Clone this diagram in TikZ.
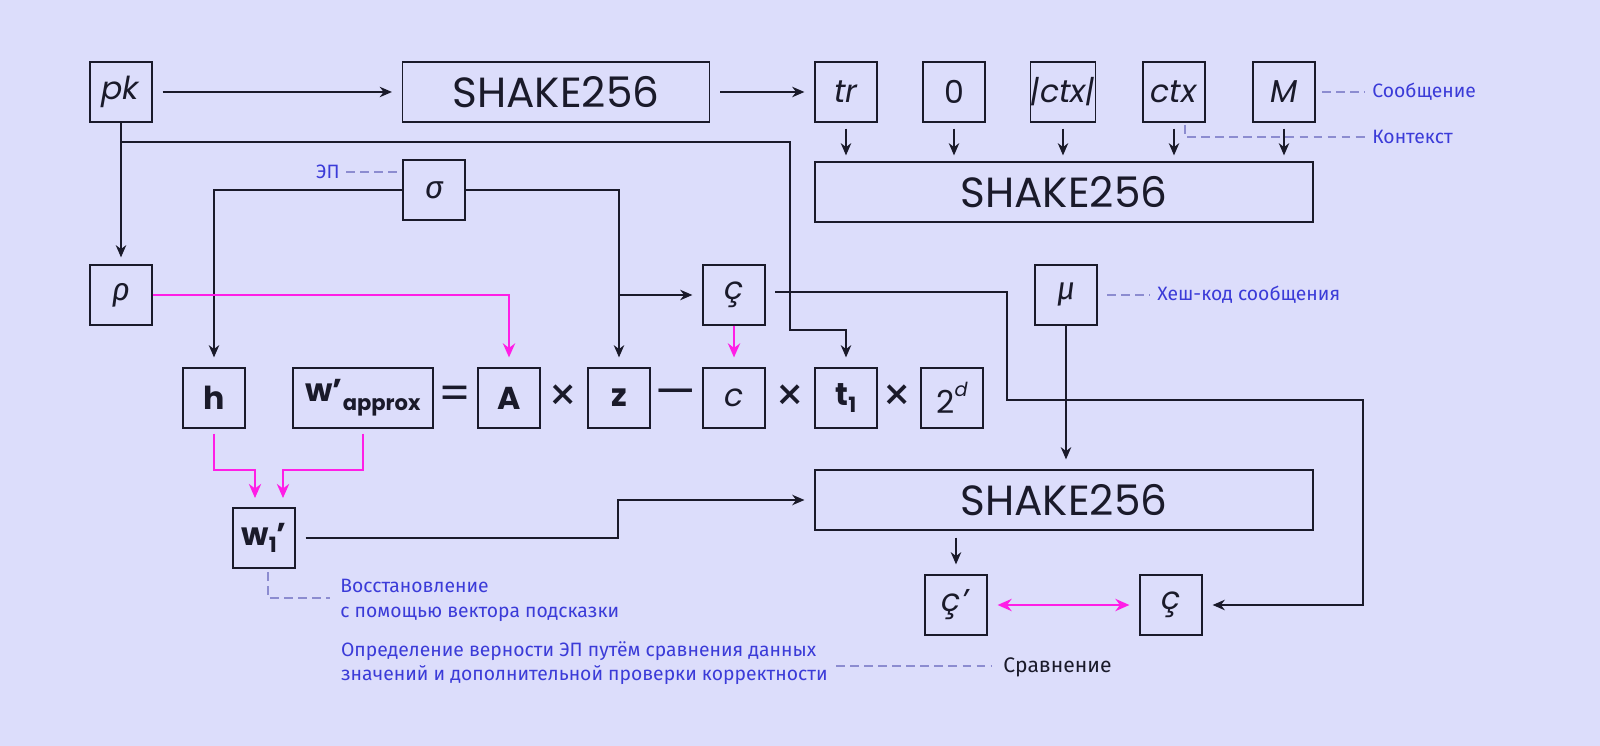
\documentclass[tikz,border=0pt]{standalone}
\usepackage{fontspec}
\setmainfont{Poppins}
\newfontfamily\fira{Fira Sans}
\usetikzlibrary{arrows.meta}
\definecolor{bg}{HTML}{DCDDFB}
\definecolor{ln}{HTML}{1A1A2A}
\definecolor{mag}{HTML}{FF1EE6}
\definecolor{ann}{HTML}{3B3BD8}
\definecolor{dsh}{HTML}{8C8CD0}
\newcommand{\gr}[1]{{\fira\itshape #1}}
\newcommand{\prm}{’}
\begin{document}
\begin{tikzpicture}[x={(0.02cm,0)},y={(0,-0.02cm)},
  bx/.style={draw=ln,line width=0.7pt,minimum width=1.24cm,minimum height=1.2cm,inner sep=0,font=\fontsize{18}{20}\selectfont,text=ln},
  wide/.style={bx,minimum width=9.96cm,font=\fontsize{24}{26}\selectfont},
  ar/.style={draw=ln,line width=0.7pt,-{Stealth[length=7pt,width=6pt]}},
  mg/.style={draw=mag,line width=1.2pt,-{Stealth[length=8pt,width=7pt]}},
  dl/.style={draw=dsh,line width=0.6pt,dash pattern=on 5pt off 3pt},
  ant/.style={text=ann,font=\fira\fontsize{11}{14}\selectfont,inner sep=0},
  op/.style={font=\fontsize{26}{26}\selectfont,text=ln,inner sep=0}]
\fill[bg] (0,0) rectangle (1600,746);
% top row
\node[bx] (pk) at (121,92) {\textit{pk}};
\node[bx,minimum width=6.14cm,font=\fontsize{24}{26}\selectfont] (s1) at (556,92) {SHAKE256};
\node[bx] (tr) at (846,92) {\textit{tr}};
\node[bx] (z0) at (954,92) {0};
\node[bx] (cl) at (1063,92) {\textit{|ctx|}};
\node[bx] (ctx) at (1174,92) {\textit{ctx}};
\node[bx] (M) at (1284,92) {\textit{M}};
\node[wide] (s2) at (1064,192) {SHAKE256};
\node[bx] (sig) at (434,190) {\gr{σ}};
\node[bx] (rho) at (121,295) {\gr{ρ}};
\node[bx] (cc) at (734,295) {\textit{ç}};
\node[bx] (mu) at (1066,295) {\gr{μ}};
% equation row
\node[bx] (h) at (214,398) {\textbf{h}};
\node[bx,minimum width=2.8cm] (w) at (363,398) {\textbf{w\prm}\raisebox{-0.5ex}{\fontsize{12}{12}\selectfont\textbf{approx}}};
\node[bx] (A) at (509,398) {\textbf{A}};
\node[bx] (zz) at (619,398) {\textbf{z}};
\node[bx] (c) at (734,398) {\textit{c}};
\node[bx] (t1) at (846,398) {\textbf{t}\raisebox{-0.4ex}{\fontsize{12}{12}\selectfont\textbf{1}}};
\node[bx] (d) at (952,398) {2\raisebox{1ex}{\fontsize{11}{11}\selectfont\textit{d}}};
\node[op] (o1) at (455,398) {=};
\node[op] (o2) at (563,398) {×};
\node[op] (o3) at (676,398) {—};
\node[op] (o4) at (790,398) {×};
\node[op] (o5) at (897,398) {×};
\node[bx] (w1) at (264,538) {\textbf{w}\raisebox{-0.4ex}{\fontsize{12}{12}\selectfont\textbf{1}}\textbf{\prm}};
\node[wide] (s3) at (1064,500) {SHAKE256};
\node[bx] (cp) at (956,605) {\textit{ç\prm}};
\node[bx] (c2) at (1171,605) {\textit{ç}};
% connectors
\draw[ar] ([xshift=0.2cm]pk.east) -- ([xshift=-0.2cm]s1.west);
\draw[ar] ([xshift=0.2cm]s1.east) -- ([xshift=-0.2cm]tr.west);
\foreach \n in {tr,z0,cl,ctx,M}{\draw[ar] ([yshift=-0.12cm]\n.south) -- ([yshift=0.12cm]\n.south |- s2.north);}
\draw[ar] (pk.south) -- ([yshift=0.14cm]rho.north);
\draw[ar] (121,142) -- (790,142) -- (790,330) -- (846,330) -- ([yshift=0.2cm]t1.north);
\draw[ar] (sig.west) -- (214,190) -- ([yshift=0.2cm]h.north);
\draw[ar] (sig.east) -- (619,190) -- ([yshift=0.2cm]zz.north);
\draw[ar] (619,295) -- ([xshift=-0.2cm]cc.west);
\draw[mg] (rho.east) -- (509,295) -- ([yshift=0.2cm]A.north);
\draw[mg] (cc.south) -- ([yshift=0.2cm]c.north);
\draw[ar] (775,292) -- (1007,292) -- (1007,400) -- (1363,400) -- (1363,605) -- ([xshift=0.2cm]c2.east);
\draw[ar] (mu.south) -- ([yshift=0.2cm]s3.north -| mu);
\draw[ar] ([yshift=-0.14cm]s3.south -| cp) -- ([yshift=0.2cm]cp.north);
\draw[ar] ([xshift=0.2cm]w1.east) -- (618,538) -- (618,500) -- ([xshift=-0.2cm]s3.west);
\draw[mg] ([yshift=-0.1cm]h.south) -- (214,470) -- (255,470) -- (255,498);
\draw[mg] ([yshift=-0.1cm]w.south) -- (363,470) -- (283,470) -- (283,498);
\draw[draw=mag,line width=1.2pt,{Stealth[length=8pt,width=7pt]}-{Stealth[length=8pt,width=7pt]}] ([xshift=0.2cm]cp.east) -- ([xshift=-0.2cm]c2.west);
% annotations
\draw[dl] (1322,92) -- (1365,92);
\node[ant,anchor=west] (a1) at (1372,92) {Сообщение};
\draw[dl] (1185,125) -- (1185,137) -- (1365,137);
\node[ant,anchor=west] (a2) at (1372,137) {Контекст};
\node[ant,anchor=east] (a3) at (340,172) {ЭП};
\draw[dl] (346,172) -- (398,172);
\draw[dl] (1107,295) -- (1150,295);
\node[ant,anchor=west] (a4) at (1157,295) {Хеш-код сообщения};
\draw[dl] (268,572) -- (268,598) -- (330,598);
\node[ant,anchor=north west,align=left] (a5) at (340,579) {Восстановление\\с помощью вектора подсказки};
\node[ant,anchor=east,align=left] (a6) at (828,663) {Определение верности ЭП путём сравнения данных\\значений и дополнительной проверки корректности};
\draw[dl] (836,666) -- (992,666);
\node[font=\fira\fontsize{12}{14}\selectfont,text=ln,anchor=west,inner sep=0] (a7) at (1003,667) {Сравнение};
\pgfresetboundingbox
\useasboundingbox (0,0) rectangle (1600,746);
\end{tikzpicture}
\end{document}
